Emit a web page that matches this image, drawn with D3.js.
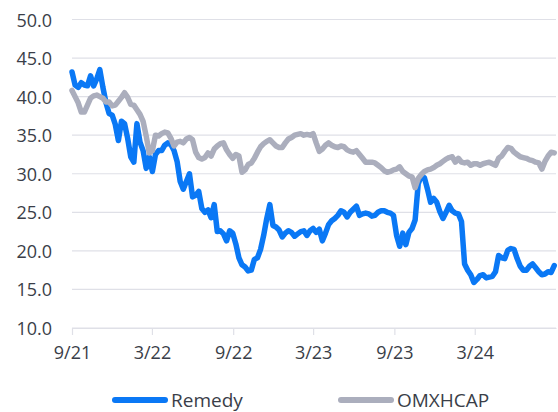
<!DOCTYPE html>
<html>
<head>
<meta charset="utf-8">
<script src="https://cdn.jsdelivr.net/npm/d3@7"></script>
<style>
  html, body { margin: 0; padding: 0; background: #fff; }
  svg { display: block; font-family: "Open Sans", sans-serif; }
</style>
</head>
<body>
<svg id="chart" width="558" height="412"></svg>
<script>
const dates = [
"2021-09-01","2021-09-08","2021-09-15","2021-09-22","2021-09-29","2021-10-06","2021-10-13","2021-10-20","2021-10-27",
"2021-11-03","2021-11-10","2021-11-17","2021-11-24","2021-12-01","2021-12-08","2021-12-15","2021-12-22","2021-12-29",
"2022-01-05","2022-01-12","2022-01-19","2022-01-26","2022-02-02","2022-02-09","2022-02-16","2022-02-23",
"2022-03-02","2022-03-09","2022-03-16","2022-03-23","2022-03-30","2022-04-06","2022-04-13","2022-04-20","2022-04-27",
"2022-05-04","2022-05-11","2022-05-18","2022-05-25","2022-06-01","2022-06-08","2022-06-15","2022-06-22","2022-06-29",
"2022-07-06","2022-07-13","2022-07-20","2022-07-27","2022-08-03","2022-08-10","2022-08-17","2022-08-24","2022-08-31",
"2022-09-07","2022-09-14","2022-09-21","2022-09-28","2022-10-05","2022-10-12","2022-10-19","2022-10-26",
"2022-11-02","2022-11-09","2022-11-16","2022-11-23","2022-11-30","2022-12-07","2022-12-14","2022-12-21","2022-12-28",
"2023-01-04","2023-01-11","2023-01-18","2023-01-25","2023-02-01","2023-02-08","2023-02-15","2023-02-22",
"2023-03-01","2023-03-08","2023-03-15","2023-03-22","2023-03-29","2023-04-05","2023-04-12","2023-04-19","2023-04-26",
"2023-05-03","2023-05-10","2023-05-17","2023-05-24","2023-05-31","2023-06-07","2023-06-14","2023-06-21","2023-06-28",
"2023-07-05","2023-07-12","2023-07-19","2023-07-26","2023-08-02","2023-08-09","2023-08-16","2023-08-23","2023-08-30",
"2023-09-06","2023-09-13","2023-09-20","2023-09-27","2023-10-04","2023-10-11","2023-10-18","2023-10-25",
"2023-11-01","2023-11-08","2023-11-15","2023-11-22","2023-11-29","2023-12-06","2023-12-13","2023-12-20","2023-12-27",
"2024-01-03","2024-01-10","2024-01-17","2024-01-24","2024-01-31","2024-02-07","2024-02-14","2024-02-21","2024-02-28",
"2024-03-06","2024-03-13","2024-03-20","2024-03-27","2024-04-03","2024-04-10","2024-04-17","2024-04-24",
"2024-05-01","2024-05-08","2024-05-15","2024-05-22","2024-05-29","2024-06-05","2024-06-12","2024-06-19","2024-06-26",
"2024-07-03","2024-07-10","2024-07-17","2024-07-24","2024-07-31","2024-08-07","2024-08-14","2024-08-21","2024-08-28"
];

const remedy = [
43.2,41.5,41.2,41.8,41.5,41.4,42.7,41.4,42.3,43.5,41.2,39.2,37.8,37.6,36.4,34.3,36.8,36.5,
34.6,32.2,31.5,36.5,34.1,33.0,30.7,32.2,30.3,32.5,33.0,33.0,33.7,34.0,33.8,33.0,31.6,29.0,
28.0,29.0,30.0,27.0,27.2,27.7,25.5,25.0,25.3,24.3,26.0,22.5,22.6,22.2,21.3,22.6,22.3,20.9,
19.1,18.2,17.9,17.4,17.5,18.9,19.1,20.2,22.0,24.2,26.0,23.3,23.1,22.7,21.8,22.3,
22.6,22.4,21.9,22.2,22.5,22.6,22.0,22.6,22.9,22.4,22.8,21.3,22.3,23.4,23.9,24.2,24.6,25.2,
25.0,24.4,25.0,25.4,25.8,24.6,24.8,24.9,24.8,24.5,24.6,25.0,25.2,25.2,25.0,24.9,24.6,22.0,
20.6,22.3,20.8,22.4,22.9,24.0,28.7,29.7,29.5,28.0,26.3,26.8,26.3,25.1,24.2,25.0,
25.9,25.2,24.9,24.8,23.8,18.3,17.5,16.9,15.9,16.3,16.8,16.9,16.5,16.6,16.7,17.3,19.4,19.1,
19.0,20.1,20.3,20.2,19.0,18.0,17.5,17.5,18.0,18.3,17.8,17.3,16.9,17.0,17.3,17.2,18.1
];

const omxhcap = [
40.8,40.0,39.2,38.0,38.0,38.9,39.8,40.1,40.2,40.0,39.8,39.3,39.3,38.8,38.9,39.4,39.9,40.5,
39.9,39.0,38.9,38.3,37.7,36.8,34.9,32.7,33.0,35.0,34.9,35.2,35.4,35.3,34.6,33.6,34.1,34.2,
34.0,34.5,34.7,34.4,32.8,32.1,31.9,32.1,32.7,32.3,33.2,33.6,33.9,34.0,33.1,32.5,32.0,32.5,
32.3,30.2,30.5,31.2,31.4,32.0,32.8,33.5,33.9,34.2,34.4,34.0,33.6,33.4,33.4,34.0,
34.5,34.7,35.0,35.1,35.2,35.0,35.1,35.0,35.2,34.0,32.9,33.2,33.7,34.0,33.7,33.5,33.4,33.6,
33.5,33.1,32.9,32.8,33.0,32.5,32.0,31.5,31.5,31.5,31.4,31.1,30.8,30.4,30.2,30.3,30.5,30.6,
30.9,30.3,30.0,29.7,29.6,28.2,29.4,29.9,30.3,30.5,30.6,30.8,31.1,31.3,31.6,31.9,
32.1,32.2,31.5,32.0,31.5,31.4,31.5,31.1,31.3,31.3,31.1,31.3,31.4,31.5,31.3,31.1,32.0,32.3,
32.9,33.4,33.3,32.8,32.5,32.2,32.1,32.0,31.8,31.7,31.5,31.4,30.6,31.6,32.3,32.8,32.7
];

const seriesNames = ["Remedy", "OMXHCAP"];
const seriesColors = ["#0a78f5", "#abaebd"];
const yTicks = [10, 15, 20, 25, 30, 35, 40, 45, 50];
const xTickDates = ["2021-09-01","2022-03-01","2022-09-01","2023-03-01","2023-09-01","2024-03-01"];
const xTickLabels = ["9/21","3/22","9/22","3/23","9/23","3/24"];

const parse = d3.timeParse("%Y-%m-%d");
const svg = d3.select("#chart");

const x = d3.scaleTime()
  .domain([parse("2021-09-01"), parse("2024-09-01")])
  .range([72, 556]);
const y = d3.scaleLinear().domain([10, 50]).range([328, 19.5]);

const textColor = "#3a3e48";
const gridColor = "#dfe0e7";

// gridlines
svg.append("g").selectAll("line").data(yTicks).join("line")
  .attr("x1", 72).attr("x2", 556)
  .attr("y1", d => y(d)).attr("y2", d => y(d))
  .attr("stroke", gridColor).attr("stroke-width", 1.2);

// y labels
svg.append("g").selectAll("text").data(yTicks).join("text")
  .attr("x", 52).attr("y", d => y(d))
  .attr("text-anchor", "end").attr("dominant-baseline", "central")
  .attr("font-size", 18).attr("fill", textColor)
  .text(d => d3.format(".1f")(d));

// x axis
const xAxis = d3.axisBottom(x)
  .tickValues(xTickDates.map(parse))
  .tickFormat((d, i) => xTickLabels[i])
  .tickSize(7).tickSizeOuter(0).tickPadding(11);
const gx = svg.append("g").attr("transform", "translate(0,328)").call(xAxis);
gx.select(".domain").attr("stroke", gridColor).attr("stroke-width", 1.2);
gx.selectAll(".tick line").attr("stroke", gridColor).attr("stroke-width", 1.2);
gx.selectAll(".tick text").attr("font-size", 18).attr("fill", textColor)
  .attr("font-family", "Open Sans, sans-serif");

// lines
const line = d3.line()
  .x((d, i) => x(parse(dates[i])))
  .y(d => y(d));
[remedy, omxhcap].forEach((vals, k) => {
  svg.append("path")
    .attr("d", line(vals))
    .attr("fill", "none")
    .attr("stroke", seriesColors[k])
    .attr("stroke-width", 5.5)
    .attr("stroke-linejoin", "round")
    .attr("stroke-linecap", "round");
});

// legend
const legendX = [112, 338];
const lg = svg.append("g");
seriesNames.forEach((name, k) => {
  lg.append("line")
    .attr("x1", legendX[k] + 3).attr("x2", legendX[k] + 53)
    .attr("y1", 400).attr("y2", 400)
    .attr("stroke", seriesColors[k]).attr("stroke-width", 6)
    .attr("stroke-linecap", "round");
  lg.append("text")
    .attr("x", legendX[k] + 59).attr("y", 400)
    .attr("dominant-baseline", "central")
    .attr("font-size", 19).attr("fill", textColor)
    .text(name);
});
</script>
</body>
</html>
